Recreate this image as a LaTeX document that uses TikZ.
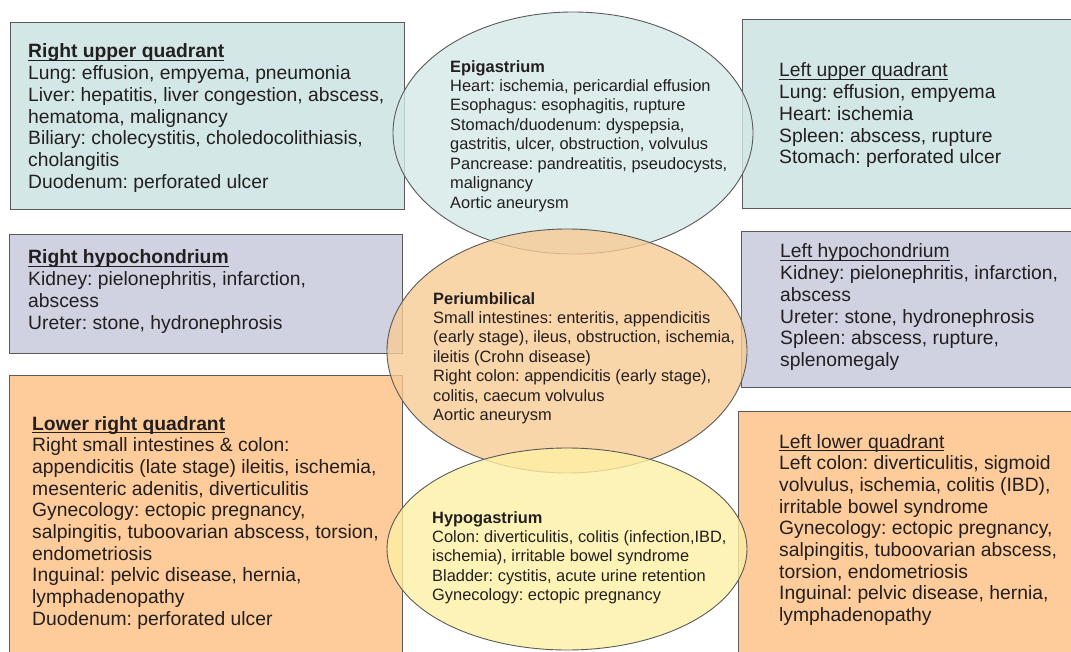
\documentclass[tikz,border=0pt]{standalone}
\usepackage{fontspec}
\setmainfont{Liberation Sans}
\frenchspacing

\definecolor{tealbox}{HTML}{D3E8E6}
\definecolor{lilacbox}{HTML}{D0D2E2}
\definecolor{peachbox}{HTML}{FDCC9A}
\definecolor{peachzone}{HTML}{F8CA95}
\definecolor{lemonzone}{HTML}{FEF0A4}
\definecolor{ink}{HTML}{231F20}
\definecolor{edge}{HTML}{5A5A5A}

\newsavebox{\headbox}
\newcommand{\ulhead}[1]{\sbox{\headbox}{#1}\rlap{\rule[-3pt]{\wd\headbox}{1.2pt}}\usebox{\headbox}}

\begin{document}
\begin{tikzpicture}[x=1pt, y=-1pt,
  region/.style={draw=edge, line width=0.9pt},
  zone/.style={draw=edge, line width=0.9pt, fill opacity=0.8},
  boxtext/.style={anchor=base west, inner sep=0pt, align=left, text=ink,
    font=\fontsize{19.3}{21.7}\selectfont},
  zonetext/.style={anchor=base west, inner sep=0pt, align=left, text=ink,
    font=\fontsize{16.4}{19.45}\selectfont}]
\clip (0,0) rectangle (1071,652);

% quadrant boxes
\filldraw [region, fill=tealbox]  (10,22)   rectangle (404,209);
\filldraw [region, fill=lilacbox] (9,234)   rectangle (402,353);
\filldraw [region, fill=peachbox] (9,375)   rectangle (402,670);
\filldraw [region, fill=tealbox]  (742,19)  rectangle (1080,208);
\filldraw [region, fill=lilacbox] (741,231) rectangle (1080,387);
\filldraw [region, fill=peachbox] (738,411) rectangle (1080,670);

% central zones
\foreach \cx/\cy/\ry/\col in {573/133/121/tealbox, 567/351/122/peachzone, 567/549/101/lemonzone}
  \filldraw [zone, fill=\col] (\cx,\cy) ellipse [x radius=180, y radius=\ry];

% texts (placed at the baseline of their last line)
\node [boxtext] (ruq) at (28,188.2) {\ulhead{\textbf{Right upper quadrant}}\\
  Lung: effusion, empyema, pneumonia\\
  Liver: hepatitis, liver congestion, abscess,\\
  hematoma, malignancy\\
  Biliary: cholecystitis, choledocolithiasis,\\
  cholangitis\\
  Duodenum: perforated ulcer};
\node [boxtext] (rhc) at (28,329.1) {\ulhead{\textbf{Right hypochondrium}}\\
  Kidney: pielonephritis, infarction,\\
  abscess\\
  Ureter: stone, hydronephrosis};
\node [boxtext] (lrq) at (32,625.3) {\ulhead{\textbf{Lower right quadrant}}\\
  Right small intestines \& colon:\\
  appendicitis (late stage) ileitis, ischemia,\\
  mesenteric adenitis, diverticulitis\\
  Gynecology: ectopic pregnancy,\\
  salpingitis, tuboovarian abscess, torsion,\\
  endometriosis\\
  Inguinal: pelvic disease, hernia,\\
  lymphadenopathy\\
  Duodenum: perforated ulcer};
\node [boxtext] (luq) at (779,163.8) {\ulhead{Left upper quadrant}\\
  Lung: effusion, empyema\\
  Heart: ischemia\\
  Spleen: abscess, rupture\\
  Stomach: perforated ulcer};
\node [boxtext] (lhc) at (780,366.5) {\ulhead{Left hypochondrium}\\
  Kidney: pielonephritis, infarction,\\
  abscess\\
  Ureter: stone, hydronephrosis\\
  Spleen: abscess, rupture,\\
  splenomegaly};
\node [boxtext] (llq) at (779,621.6) {\ulhead{Left lower quadrant}\\
  Left colon: diverticulitis, sigmoid\\
  volvulus, ischemia, colitis (IBD),\\
  irritable bowel syndrome\\
  Gynecology: ectopic pregnancy,\\
  salpingitis, tuboovarian abscess,\\
  torsion, endometriosis\\
  Inguinal: pelvic disease, hernia,\\
  lymphadenopathy};

\node [zonetext] (epi) at (450,208.2) {\textbf{Epigastrium}\\
  Heart: ischemia, pericardial effusion\\
  Esophagus: esophagitis, rupture\\
  Stomach/duodenum: dyspepsia,\\
  gastritis, ulcer, obstruction, volvulus\\
  Pancrease: pandreatitis, pseudocysts,\\
  malignancy\\
  Aortic aneurysm};
\node [zonetext] (peri) at (433,420.7) {\textbf{Periumbilical}\\
  Small intestines: enteritis, appendicitis\\
  (early stage), ileus, obstruction, ischemia,\\
  ileitis (Crohn disease)\\
  Right colon: appendicitis (early stage),\\
  colitis, caecum volvulus\\
  Aortic aneurysm};
\node [zonetext] (hypo) at (432,600.8) {\textbf{Hypogastrium}\\
  Colon: diverticulitis, colitis (infection,IBD,\\
  ischemia), irritable bowel syndrome\\
  Bladder: cystitis, acute urine retention\\
  Gynecology: ectopic pregnancy};
\end{tikzpicture}
\end{document}
